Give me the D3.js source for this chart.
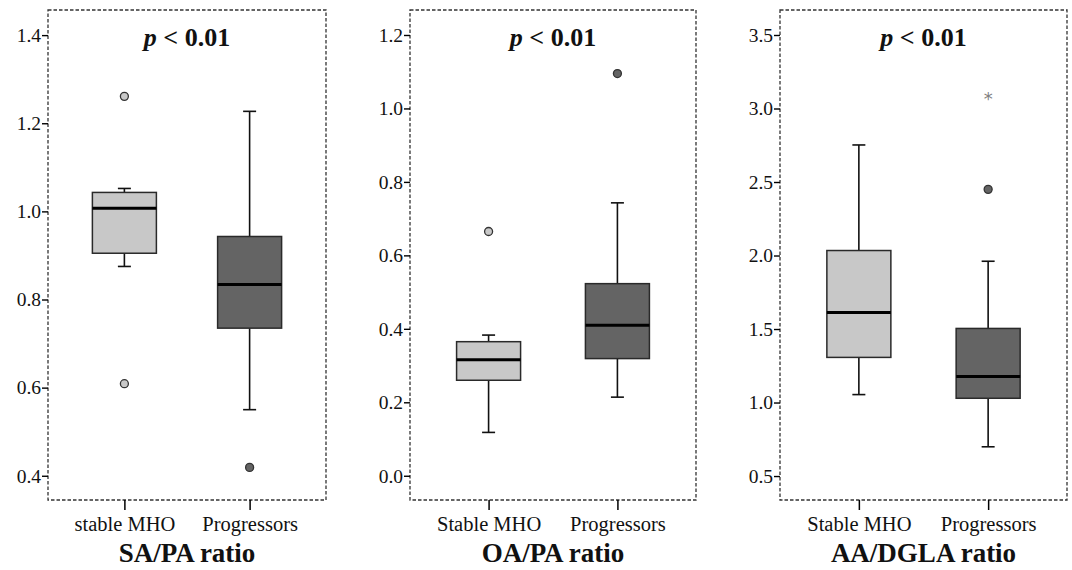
<!DOCTYPE html>
<html><head><meta charset="utf-8">
<script src="https://cdn.jsdelivr.net/npm/d3@7"></script>
<style>body{margin:0;background:#fff}svg{display:block}</style>
</head><body>
<script>
// ---- data ----
const groups1 = ["stable MHO", "Progressors"];
const groups2 = ["Stable MHO", "Progressors"];
const titles = ["SA/PA ratio", "OA/PA ratio", "AA/DGLA ratio"];
const pText = "< 0.01";
// stats per panel: [whiskerLow, q1, median, q3, whiskerHigh]
const saStable = [0.875, 0.905, 1.007, 1.043, 1.052];
const saProg   = [0.550, 0.735, 0.834, 0.943, 1.227];
const oaStable = [0.118, 0.260, 0.316, 0.365, 0.383];
const oaProg   = [0.214, 0.319, 0.410, 0.523, 0.743];
const aaStable = [1.054, 1.307, 1.613, 2.034, 2.752];
const aaProg   = [0.699, 1.029, 1.177, 1.504, 1.961];
// outliers
const saStableOut = [1.261, 0.609];
const saProgOut   = [0.419];
const oaStableOut = [0.665];
const oaProgOut   = [1.095];
const aaStableOut = [];
const aaProgOut   = [2.45];
const aaProgExtreme = [3.084];
// axis
const saTicks = [0.4, 0.6, 0.8, 1.0, 1.2, 1.4];
const oaTicks = [0.0, 0.2, 0.4, 0.6, 0.8, 1.0, 1.2];
const aaTicks = [0.5, 1.0, 1.5, 2.0, 2.5, 3.0, 3.5];
const saDomain = [0.345, 1.457];
const oaDomain = [-0.066, 1.268];
const aaDomain = [0.337, 3.67];

const panels = [
  {left:48, right:326, domain:saDomain, ticks:saTicks, groups:groups1, title:titles[0],
   stats:[saStable, saProg], outs:[saStableOut, saProgOut], ext:[[],[]]},
  {left:410, right:696, domain:oaDomain, ticks:oaTicks, groups:groups2, title:titles[1],
   stats:[oaStable, oaProg], outs:[oaStableOut, oaProgOut], ext:[[],[]]},
  {left:780, right:1067, domain:aaDomain, ticks:aaTicks, groups:groups2, title:titles[2],
   stats:[aaStable, aaProg], outs:[aaStableOut, aaProgOut], ext:[[], aaProgExtreme]},
];
const fills = ["#c8c8c8", "#646464"];
const plotTop = 10, plotBottom = 500;
const font = "'Liberation Serif','Times New Roman',serif";

const svg = d3.select("body").append("svg").attr("width",1072).attr("height",570);

panels.forEach(p => {
  const g = svg.append("g");
  const y = d3.scaleLinear().domain(p.domain).range([plotBottom, plotTop]);
  const x = d3.scalePoint().domain(p.groups).range([p.left, p.right]).padding(0.61);
  const bw = 64;

  // frame
  g.append("rect").attr("x",p.left).attr("y",plotTop).attr("width",p.right-p.left).attr("height",plotBottom-plotTop)
    .attr("fill","none").attr("stroke","#333").attr("stroke-width",1.3).attr("stroke-dasharray","3.5,2");

  // y axis
  const ya = g.append("g").attr("transform",`translate(${p.left},0)`)
    .call(d3.axisLeft(y).tickValues(p.ticks).tickFormat(d3.format(".1f")).tickSize(6).tickPadding(1));
  ya.select(".domain").remove();
  ya.selectAll("line").attr("stroke","#000").attr("stroke-width",1.4);
  ya.selectAll("text").attr("font-family",font).attr("font-size",19.5).attr("fill","#111");

  // x axis
  const xa = g.append("g").attr("transform",`translate(0,${plotBottom})`)
    .call(d3.axisBottom(x).tickSize(10).tickPadding(6));
  xa.select(".domain").remove();
  xa.selectAll("line").attr("stroke","#000").attr("stroke-width",1.5);
  xa.selectAll("text").attr("font-family",font).attr("font-size",20.5).attr("fill","#111");

  // boxes
  p.groups.forEach((gr, i) => {
    const s = p.stats[i];
    const cx = x(gr);
    const cap = 13;
    g.append("line").attr("x1",cx).attr("x2",cx).attr("y1",y(s[4])).attr("y2",y(s[3]))
      .attr("stroke","#111").attr("stroke-width",1.6);
    g.append("line").attr("x1",cx).attr("x2",cx).attr("y1",y(s[1])).attr("y2",y(s[0]))
      .attr("stroke","#111").attr("stroke-width",1.6);
    g.append("line").attr("x1",cx-cap/2).attr("x2",cx+cap/2).attr("y1",y(s[4])).attr("y2",y(s[4]))
      .attr("stroke","#111").attr("stroke-width",1.6);
    g.append("line").attr("x1",cx-cap/2).attr("x2",cx+cap/2).attr("y1",y(s[0])).attr("y2",y(s[0]))
      .attr("stroke","#111").attr("stroke-width",1.6);
    g.append("rect").attr("x",cx-bw/2).attr("width",bw).attr("y",y(s[3])).attr("height",y(s[1])-y(s[3]))
      .attr("fill",fills[i]).attr("stroke","#2a2a2a").attr("stroke-width",1.5);
    g.append("line").attr("x1",cx-bw/2).attr("x2",cx+bw/2).attr("y1",y(s[2])).attr("y2",y(s[2]))
      .attr("stroke","#000").attr("stroke-width",3);
    p.outs[i].forEach(v => {
      g.append("circle").attr("cx",cx).attr("cy",y(v)).attr("r",4)
        .attr("fill",fills[i]).attr("stroke","#333").attr("stroke-width",1.3);
    });
    p.ext[i].forEach(v => {
      g.append("text").attr("x",cx).attr("y",y(v)+9).attr("text-anchor","middle")
        .attr("font-family","'DejaVu Sans',sans-serif").attr("font-size",18).attr("fill","#808080").text("*");
    });
  });

  // p-value
  const cxm = (p.left + p.right)/2;
  const pt = g.append("text").attr("x",cxm).attr("y",46).attr("text-anchor","middle")
    .attr("font-family",font).attr("font-size",26).attr("font-weight","bold").attr("fill","#111");
  pt.append("tspan").attr("font-style","italic").text("p");
  pt.append("tspan").text(" " + pText);

  // title
  g.append("text").attr("x",cxm).attr("y",562).attr("text-anchor","middle")
    .attr("font-family",font).attr("font-size",27).attr("font-weight","bold").attr("fill","#111").text(p.title);
});
</script>
</body></html>
